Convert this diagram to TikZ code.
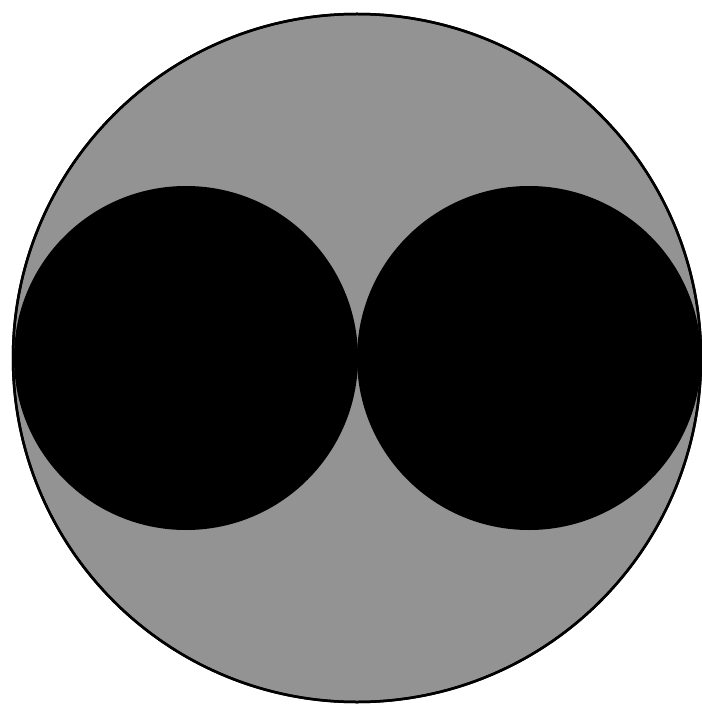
\documentclass[tikz,border=0pt]{standalone}
\usepackage{xcolor}
\usepackage{tikz}

\definecolor{discgray}{HTML}{939393}

\begin{document}
\begin{tikzpicture}[
      x=1pt, y=-1pt,
      outer/.style={draw=black, line width=2.5pt, fill=discgray},
      inner/.style={fill=black}
    ]
      \useasboundingbox (0,0) rectangle (701,708);
      \fill[white] (0,0) rectangle (701,708);
      \filldraw[outer] (357,358) circle (344);
      \fill[inner] (186,358) circle (172);
      \fill[inner] (529,358) circle (172);
      \draw[black, line width=2.5pt] (357,358) circle (344);
    \end{tikzpicture}
\end{document}
